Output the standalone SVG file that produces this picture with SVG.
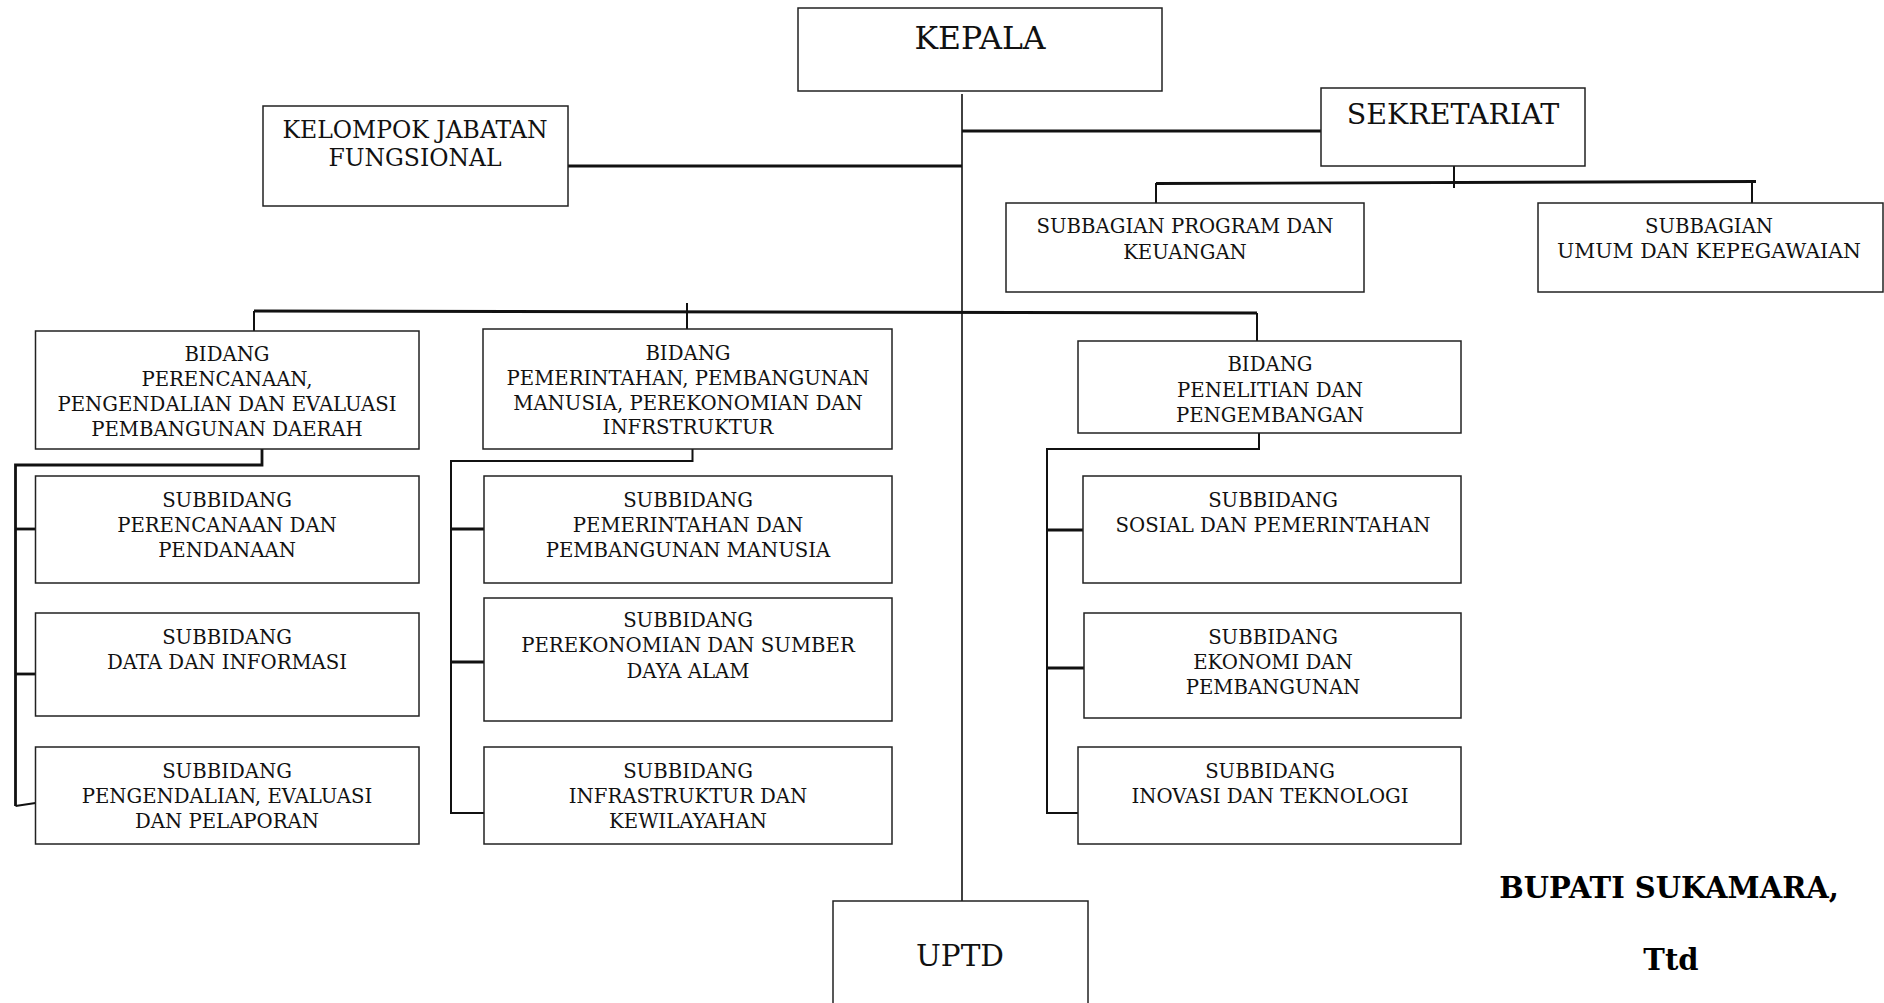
<svg xmlns="http://www.w3.org/2000/svg" width="1884" height="1003" viewBox="0 0 1884 1003">
<style>
  .box { fill: #fff; stroke: #222; stroke-width: 1.5; }
  .t { font-family: "DejaVu Serif", "Liberation Serif", serif; font-size: 19.7px; fill: #111; text-anchor: middle; }
  .kjf { font-size: 23.5px; }
  .sig { font-family: "DejaVu Serif", "Liberation Serif", serif; font-weight: bold; font-size: 29px; fill: #000; text-anchor: middle; }
  .ln { fill: none; stroke: #111; stroke-width: 2; }
  .thick { stroke-width: 2.8; }
  .thin { stroke-width: 1.6; }
</style>
<rect width="1884" height="1003" fill="#fff"/>

<g id="connectors">
  <line class="ln thin" x1="962" y1="94" x2="962" y2="901"/>
  <line class="ln thick" x1="568" y1="166" x2="962" y2="166"/>
  <line class="ln thick" x1="962" y1="131" x2="1321" y2="131"/>
  <line class="ln" x1="1454" y1="166" x2="1454" y2="188"/>
  <line class="ln thick" x1="1156" y1="183.5" x2="1756" y2="181.5"/>
  <line class="ln" x1="1156" y1="183" x2="1156" y2="203"/>
  <line class="ln" x1="1752" y1="182" x2="1752" y2="203"/>
  <line class="ln thick" x1="254" y1="311" x2="1257" y2="313"/>
  <line class="ln" x1="254" y1="311" x2="254" y2="338"/>
  <line class="ln" x1="687" y1="303" x2="687" y2="329"/>
  <line class="ln" x1="1257" y1="313" x2="1257" y2="342"/>
  <polyline class="ln thick" points="262,449 262,465 15.5,465 15.5,806"/>
  <line class="ln thick" x1="15.5" y1="529" x2="35.5" y2="529"/>
  <line class="ln thick" x1="15.5" y1="674" x2="35.5" y2="674"/>
  <line class="ln" x1="15.5" y1="806" x2="35.5" y2="803"/>
  <polyline class="ln" points="692.5,445 692.5,461 451,461 451,813 484,813"/>
  <line class="ln thick" x1="451" y1="529" x2="484" y2="529"/>
  <line class="ln thick" x1="451" y1="662" x2="484" y2="662"/>
  <polyline class="ln" points="1259,427 1259,449 1047,449 1047,813 1078,813"/>
  <line class="ln thick" x1="1047" y1="530" x2="1083" y2="530"/>
  <line class="ln thick" x1="1047" y1="668" x2="1084" y2="668"/>
</g>

<g id="kepala">
  <rect class="box" x="798" y="8" width="364" height="83"/>
  <text class="t" x="980" y="49" style="font-size:31.5px">KEPALA</text>
</g>
<g id="kelompok-jabatan-fungsional">
  <rect class="box" x="263" y="106" width="305" height="100"/>
  <text class="t kjf" x="415" y="138">KELOMPOK JABATAN</text>
  <text class="t kjf" x="415" y="166">FUNGSIONAL</text>
</g>
<g id="sekretariat">
  <rect class="box" x="1321" y="88" width="264" height="78"/>
  <text class="t" x="1453" y="124" style="font-size:28.5px">SEKRETARIAT</text>
</g>
<g id="subbagian-program">
  <rect class="box" x="1006" y="203" width="358" height="89"/>
  <text class="t" x="1185" y="233">SUBBAGIAN PROGRAM DAN</text>
  <text class="t" x="1185" y="259">KEUANGAN</text>
</g>
<g id="subbagian-umum">
  <rect class="box" x="1538" y="203" width="345" height="89"/>
  <text class="t" x="1709" y="233">SUBBAGIAN</text>
  <text class="t" x="1709" y="258" style="font-size:20.5px">UMUM DAN KEPEGAWAIAN</text>
</g>

<g id="bidang-perencanaan">
  <rect class="box" x="35.5" y="331" width="383.5" height="118"/>
  <text class="t" x="227" y="361">BIDANG</text>
  <text class="t" x="227" y="386">PERENCANAAN,</text>
  <text class="t" x="227" y="411">PENGENDALIAN DAN EVALUASI</text>
  <text class="t" x="227" y="436">PEMBANGUNAN DAERAH</text>
</g>
<g id="bidang-pemerintahan">
  <rect class="box" x="483" y="329" width="409" height="120"/>
  <text class="t" x="688" y="360">BIDANG</text>
  <text class="t" x="688" y="385">PEMERINTAHAN, PEMBANGUNAN</text>
  <text class="t" x="688" y="410">MANUSIA, PEREKONOMIAN DAN</text>
  <text class="t" x="688" y="434">INFRSTRUKTUR</text>
</g>
<g id="bidang-penelitian">
  <rect class="box" x="1078" y="341" width="383" height="92"/>
  <text class="t" x="1270" y="371">BIDANG</text>
  <text class="t" x="1270" y="397">PENELITIAN DAN</text>
  <text class="t" x="1270" y="422">PENGEMBANGAN</text>
</g>

<g id="sub-perencanaan-pendanaan">
  <rect class="box" x="35.5" y="476" width="383.5" height="107"/>
  <text class="t" x="227" y="507">SUBBIDANG</text>
  <text class="t" x="227" y="532">PERENCANAAN DAN</text>
  <text class="t" x="227" y="557">PENDANAAN</text>
</g>
<g id="sub-data-informasi">
  <rect class="box" x="35.5" y="613" width="383.5" height="103"/>
  <text class="t" x="227" y="644">SUBBIDANG</text>
  <text class="t" x="227" y="669">DATA DAN INFORMASI</text>
</g>
<g id="sub-pengendalian">
  <rect class="box" x="35.5" y="747" width="383.5" height="97"/>
  <text class="t" x="227" y="778">SUBBIDANG</text>
  <text class="t" x="227" y="803">PENGENDALIAN, EVALUASI</text>
  <text class="t" x="227" y="828">DAN PELAPORAN</text>
</g>

<g id="sub-pemerintahan">
  <rect class="box" x="484" y="476" width="408" height="107"/>
  <text class="t" x="688" y="507">SUBBIDANG</text>
  <text class="t" x="688" y="532">PEMERINTAHAN DAN</text>
  <text class="t" x="688" y="557">PEMBANGUNAN MANUSIA</text>
</g>
<g id="sub-perekonomian">
  <rect class="box" x="484" y="598" width="408" height="123"/>
  <text class="t" x="688" y="627">SUBBIDANG</text>
  <text class="t" x="688" y="652">PEREKONOMIAN DAN SUMBER</text>
  <text class="t" x="688" y="678">DAYA ALAM</text>
</g>
<g id="sub-infrastruktur">
  <rect class="box" x="484" y="747" width="408" height="97"/>
  <text class="t" x="688" y="778">SUBBIDANG</text>
  <text class="t" x="688" y="803">INFRASTRUKTUR DAN</text>
  <text class="t" x="688" y="828">KEWILAYAHAN</text>
</g>

<g id="sub-sosial">
  <rect class="box" x="1083" y="476" width="378" height="107"/>
  <text class="t" x="1273" y="507">SUBBIDANG</text>
  <text class="t" x="1273" y="532">SOSIAL DAN PEMERINTAHAN</text>
</g>
<g id="sub-ekonomi">
  <rect class="box" x="1084" y="613" width="377" height="105"/>
  <text class="t" x="1273" y="644">SUBBIDANG</text>
  <text class="t" x="1273" y="669">EKONOMI DAN</text>
  <text class="t" x="1273" y="694">PEMBANGUNAN</text>
</g>
<g id="sub-inovasi">
  <rect class="box" x="1078" y="747" width="383" height="97"/>
  <text class="t" x="1270" y="778">SUBBIDANG</text>
  <text class="t" x="1270" y="803">INOVASI DAN TEKNOLOGI</text>
</g>

<g id="uptd">
  <rect class="box" x="833" y="901" width="255" height="110"/>
  <text class="t" x="960" y="966" style="font-size:29.5px">UPTD</text>
</g>

<g id="signature">
  <text class="sig" x="1669" y="898">BUPATI SUKAMARA,</text>
  <text class="sig" x="1671" y="970">Ttd</text>
</g>
</svg>
